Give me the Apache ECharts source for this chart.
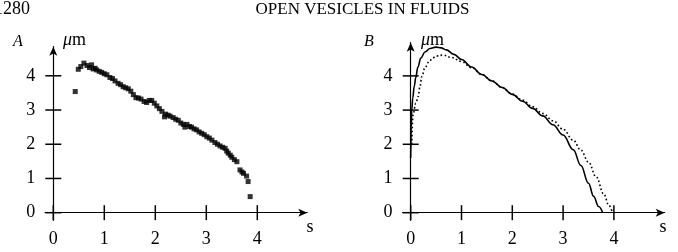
<!DOCTYPE html>
<html>
<head>
<meta charset="utf-8">
<script src="https://cdn.jsdelivr.net/npm/echarts@6/dist/echarts.min.js"></script>
<style>
html,body{margin:0;padding:0;background:#fff;}
#c{width:678px;height:252px;}
</style>
</head>
<body>
<div id="c"></div>
<script>
// ---- data ----
const tickValues = [0, 1, 2, 3, 4];
const scatterS = [0.43,0.49,0.54,0.60,0.66,0.71,0.75,0.78,0.82,0.85,0.90,0.95,1.00,1.05,1.11,1.16,1.21,1.27,1.32,1.37,1.42,1.47,1.52,1.57,1.62,1.67,1.72,1.78,1.83,1.88,1.93,1.98,2.03,2.08,2.13,2.18,2.20,2.25,2.29,2.35,2.40,2.45,2.50,2.55,2.58,2.62,2.67,2.71,2.76,2.81,2.86,2.91,2.96,3.01,3.06,3.11,3.17,3.22,3.27,3.32,3.37,3.40,3.43,3.47,3.50,3.55,3.60,3.66,3.70,3.73,3.79,3.82,3.86];
const scatterV = [3.54,4.19,4.27,4.37,4.30,4.24,4.32,4.20,4.22,4.17,4.13,4.10,4.06,4.03,3.95,3.92,3.85,3.78,3.74,3.68,3.65,3.62,3.55,3.45,3.36,3.35,3.32,3.25,3.22,3.28,3.28,3.20,3.12,3.04,2.96,2.80,2.88,2.85,2.82,2.78,2.73,2.70,2.62,2.58,2.50,2.58,2.52,2.50,2.45,2.42,2.36,2.32,2.28,2.22,2.18,2.12,2.05,2.00,1.95,1.91,1.88,1.80,1.74,1.68,1.62,1.55,1.49,1.25,1.19,1.15,1.07,0.91,0.47];
const solidS = [0,0.01,0.02,0.04,0.07,0.10,0.14,0.20,0.28,0.38,0.50,0.60,0.70,0.85,1.00,1.20,1.40,1.60,1.80,2.00,2.20,2.40,2.60,2.80,3.00,3.20,3.35,3.50,3.60,3.70,3.78];
const solidV = [1.6,2.5,3.0,3.35,3.7,3.95,4.25,4.52,4.70,4.80,4.84,4.82,4.76,4.63,4.48,4.26,4.04,3.85,3.66,3.46,3.26,3.05,2.83,2.57,2.27,1.84,1.38,0.86,0.48,0.18,0];
const dottedS = [0.02,0.05,0.10,0.15,0.18,0.22,0.28,0.38,0.51,0.64,0.80,1.00,1.20,1.40,1.60,1.80,2.00,2.20,2.40,2.60,2.80,3.00,3.20,3.35,3.50,3.65,3.80,3.90,3.97];
const dottedV = [2.0,2.9,3.2,3.4,3.68,3.98,4.25,4.46,4.58,4.61,4.54,4.42,4.24,4.04,3.85,3.66,3.47,3.29,3.10,2.90,2.69,2.44,2.12,1.83,1.48,1.05,0.55,0.22,0];

const zip = (a, b) => a.map((v, i) => [v, b[i]]);
const SERIF = '"Liberation Serif","DejaVu Serif",serif';
const PXX = 51, PXY = 34.2, Y0 = 212.7;

function axis(dim, grid, min, max) {
  return {
    type: 'value', gridIndex: grid, min: min, max: max,
    position: dim === 'x' ? 'bottom' : 'left',
    splitLine: {show: false}, axisTick: {show: false},
    axisLabel: {show: true, customValues: tickValues, margin: 10, color: '#000',
      fontFamily: SERIF, fontSize: 18},
    axisLine: {show: true, onZero: true, symbol: ['none', 'arrow'], symbolSize: [6, 9],
      lineStyle: {color: '#000', width: 1.2}}
  };
}
function tickSeries(dim, idx) {
  return {
    type: 'scatter', xAxisIndex: idx, yAxisIndex: idx, silent: true, clip: false, z: 5,
    symbol: 'rect', symbolSize: dim === 'x' ? [1.5, 15] : [16, 1.5],
    itemStyle: {color: '#000', opacity: 1},
    data: tickValues.map(v => dim === 'x' ? [v, 0] : [0, v])
  };
}

const chart = echarts.init(document.getElementById('c'), null, {renderer: 'canvas'});
chart.setOption({
  animation: false,
  backgroundColor: '#fff',
  grid: [
    {left: 53.3 - 0.16 * PXX, top: 46.7, width: 5.14 * PXX, height: Y0 + 0.22 * PXY - 46.7, outerBoundsMode: 'none'},
    {left: 410.7 - 0.16 * 50.8, top: 42.7, width: 5.16 * 50.8, height: Y0 + 0.22 * PXY - 42.7, outerBoundsMode: 'none'}
  ],
  xAxis: [axis('x', 0, -0.16, 4.98), axis('x', 1, -0.16, 5.0)],
  yAxis: [axis('y', 0, -0.22, 4.85), axis('y', 1, -0.22, 4.97)],
  series: [
    tickSeries('x', 0), tickSeries('y', 0), tickSeries('x', 1), tickSeries('y', 1),
    {type: 'scatter', xAxisIndex: 0, yAxisIndex: 0, symbol: 'rect', symbolSize: 5,
      itemStyle: {color: '#000'}, data: zip(scatterS, scatterV)},
    {type: 'line', xAxisIndex: 1, yAxisIndex: 1, showSymbol: false, smooth: 0.4, smoothMonotone: 'x',
      lineStyle: {color: '#000', width: 1.6}, data: zip(solidS, solidV)},
    {type: 'line', xAxisIndex: 1, yAxisIndex: 1, showSymbol: false, smooth: 0.4, smoothMonotone: 'x',
      lineStyle: {color: '#000', width: 1.6, type: [1.6, 2.4]}, data: zip(dottedS, dottedV)}
  ],
  graphic: [
    {type: 'text', left: -6, top: 0, style: {text: '1280', font: '18px ' + SERIF, fill: '#000'}},
    {type: 'text', x: 362.5, y: 10, style: {text: 'OPEN VESICLES IN FLUIDS', font: '17px ' + SERIF, fill: '#000', align: 'center', verticalAlign: 'middle'}},
    {type: 'text', x: 18, y: 42, style: {text: 'A', font: 'italic 16px ' + SERIF, fill: '#000', align: 'center', verticalAlign: 'middle'}},
    {type: 'text', x: 369, y: 42, style: {text: 'B', font: 'italic 16px ' + SERIF, fill: '#000', align: 'center', verticalAlign: 'middle'}},
    {type: 'text', x: 63, y: 40, style: {text: '{i|μ}{r|m}', fill: '#000', verticalAlign: 'middle',
      rich: {i: {font: 'italic 18px ' + SERIF}, r: {font: '18px ' + SERIF}}}},
    {type: 'text', x: 421, y: 40, style: {text: '{i|μ}{r|m}', fill: '#000', verticalAlign: 'middle',
      rich: {i: {font: 'italic 18px ' + SERIF}, r: {font: '18px ' + SERIF}}}},
    {type: 'text', x: 310, y: 227, style: {text: 's', font: '18px ' + SERIF, fill: '#000', align: 'center', verticalAlign: 'middle'}},
    {type: 'text', x: 663, y: 227, style: {text: 's', font: '18px ' + SERIF, fill: '#000', align: 'center', verticalAlign: 'middle'}}
  ]
});
</script>
</body>
</html>
